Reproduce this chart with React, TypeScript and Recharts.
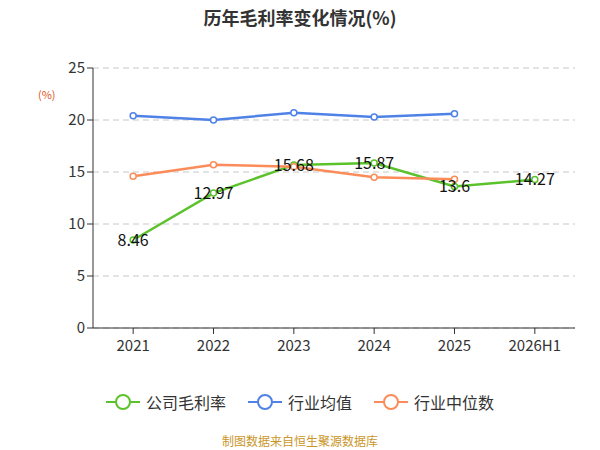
import React from "react";
import { LineChart, Line, XAxis, YAxis, CartesianGrid, LabelList } from "recharts";

const years = ["2021", "2022", "2023", "2024", "2025", "2026H1"];
const company = [8.46, 12.97, 15.68, 15.87, 13.6, 14.27];
const industryAvg = [20.4, 20.0, 20.7, 20.3, 20.6, null];
const industryMedian = [14.6, 15.7, 15.5, 14.5, 14.3, null];

const data = years.map((y, i) => ({
    year: y,
    company: company[i],
    avg: industryAvg[i],
    median: industryMedian[i],
}));

const series = [
    { key: "company", name: "公司毛利率", color: "#5cc22c" },
    { key: "avg", name: "行业均值", color: "#4f82e6" },
    { key: "median", name: "行业中位数", color: "#fb8c5a" },
];

const font = "'Noto Sans CJK SC', 'Noto Sans', sans-serif";

export default function App() {
    return (
        <div style={{ position: "absolute", left: 0, top: 0, width: 600, height: 450, fontFamily: font, background: "#fff" }}>
            <div style={{ position: "absolute", top: 4, width: 600, textAlign: "center", fontSize: 18, fontWeight: 700, color: "#333" }}>
                历年毛利率变化情况(%)
            </div>
            <div style={{ position: "absolute", left: 38, top: 86, fontSize: 11, color: "#e0561c" }}>(%)</div>
            <LineChart width={600} height={450} data={data}
                margin={{ top: 68, right: 25, left: 0, bottom: 82 }}>
                <CartesianGrid horizontal vertical={false} strokeDasharray="6 4" stroke="#c8c8c8" />
                <XAxis dataKey="year" scale="band" height={40} stroke="#333" tickLine={{ stroke: "#333" }} tickSize={6}
                    tick={{ fill: "#333", fontSize: 15 }} interval={0} tickMargin={6} />
                <YAxis width={93} domain={[0, 25]} ticks={[0, 5, 10, 15, 20, 25]} stroke="#333"
                    tick={{ fill: "#333", fontSize: 15 }} tickSize={6} />
                {series.map((s) => (
                    <Line key={s.key} name={s.name} dataKey={s.key} stroke={s.color} strokeWidth={2.5}
                        dot={{ r: 3, fill: "#fff", strokeWidth: 1.5 }} isAnimationActive={false}>
                        {s.key === "company" && (
                            <LabelList dataKey="company" position="center" style={{ fill: "#111", fontSize: 16 }} />
                        )}
                    </Line>
                ))}
            </LineChart>
            <div style={{ position: "absolute", top: 390, width: 600, display: "flex", justifyContent: "center", gap: 22, fontSize: 16, color: "#333" }}>
                {series.map((s) => (
                    <div key={s.key} style={{ display: "flex", alignItems: "center" }}>
                        <svg width={34} height={20} style={{ marginRight: 6 }}>
                            <line x1={0} y1={10} x2={34} y2={10} stroke={s.color} strokeWidth={2} />
                            <circle cx={17} cy={10} r={7} fill="#fff" stroke={s.color} strokeWidth={2} />
                        </svg>
                        <span>{s.name}</span>
                    </div>
                ))}
            </div>
            <div style={{ position: "absolute", top: 432, width: 600, textAlign: "center", fontSize: 12, color: "#c9962a" }}>
                制图数据来自恒生聚源数据库
            </div>
        </div>
    );
}
